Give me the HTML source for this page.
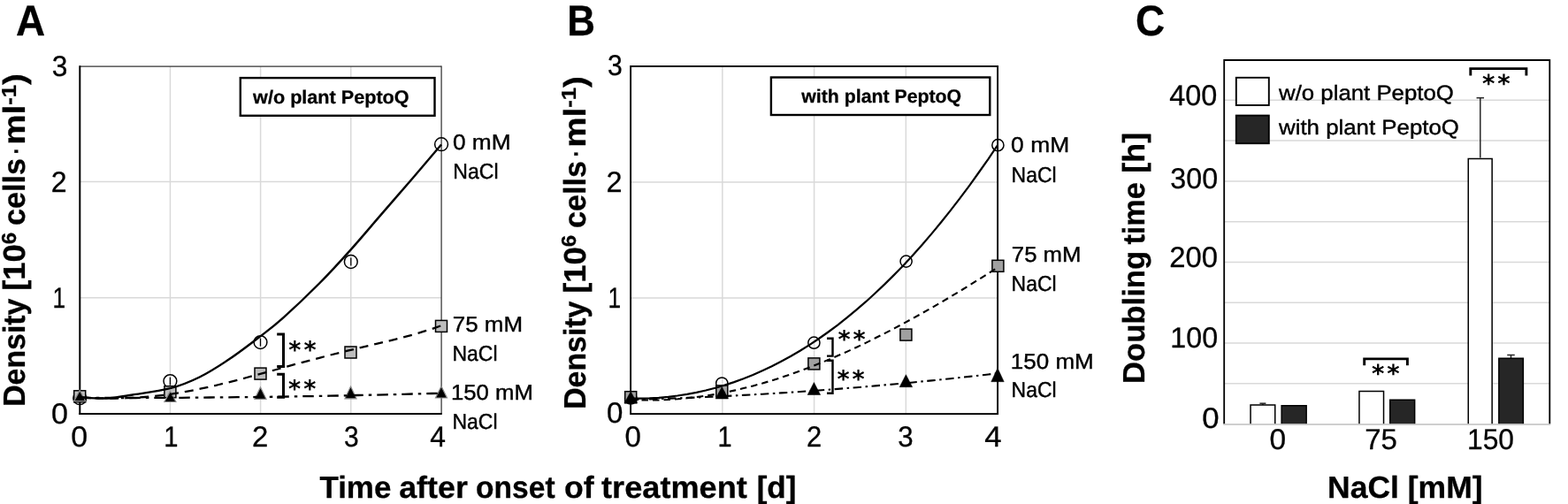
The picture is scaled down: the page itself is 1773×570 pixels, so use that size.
<!DOCTYPE html>
<html lang="en">
<head>
<meta charset="utf-8">
<title>Cell density and doubling time under NaCl treatment</title>
<style>
html,body{margin:0;padding:0;background:#fff;}
body{width:1773px;height:570px;overflow:hidden;}
svg{display:block;font-family:'Liberation Sans', sans-serif;fill:#000;text-rendering:geometricPrecision;}
text{stroke:#000;stroke-width:0.4px;stroke-linejoin:round;}
text.b{stroke-width:0.3px;}
text.s{stroke-width:0;}
text.t{stroke-width:0.3px;}
</style>
</head>
<body>
<svg width="1773" height="570" viewBox="0 0 1773 570" role="img" aria-label="Cell density over time with and without plant PeptoQ under NaCl treatment, and doubling time">
<rect x="0" y="0" width="1773" height="570" fill="#fff"/>
<g>
<line x1="192.45" y1="75.00" x2="192.45" y2="467.90" stroke="#d9d9d9" stroke-width="1.5" />
<line x1="294.60" y1="75.00" x2="294.60" y2="467.90" stroke="#d9d9d9" stroke-width="1.5" />
<line x1="396.75" y1="75.00" x2="396.75" y2="467.90" stroke="#d9d9d9" stroke-width="1.5" />
<line x1="90.30" y1="336.75" x2="499.00" y2="336.75" stroke="#d9d9d9" stroke-width="1.5" />
<line x1="90.30" y1="205.60" x2="499.00" y2="205.60" stroke="#d9d9d9" stroke-width="1.5" />
<line x1="90.30" y1="75.00" x2="499.10" y2="75.00" stroke="#333" stroke-width="1.25" />
<line x1="499.10" y1="74.40" x2="499.10" y2="467.90" stroke="#333" stroke-width="1.25" />
<line x1="90.30" y1="74.30" x2="90.30" y2="468.90" stroke="#000" stroke-width="2" />
<line x1="89.30" y1="467.90" x2="499.80" y2="467.90" stroke="#000" stroke-width="2" />
<circle cx="90.20" cy="450.20" r="7.4" fill="none" stroke="#000" stroke-width="1.5"/>
<circle cx="192.40" cy="431.10" r="7.4" fill="none" stroke="#000" stroke-width="1.5"/>
<circle cx="294.50" cy="387.10" r="7.4" fill="none" stroke="#000" stroke-width="1.5"/>
<circle cx="396.80" cy="296.00" r="7.4" fill="none" stroke="#000" stroke-width="1.5"/>
<circle cx="499.06" cy="163.20" r="7.4" fill="none" stroke="#000" stroke-width="1.5"/>
<line x1="192.40" y1="426.60" x2="192.40" y2="435.60" stroke="#000" stroke-width="1.3" />
<line x1="294.50" y1="382.60" x2="294.50" y2="391.60" stroke="#000" stroke-width="1.3" />
<line x1="396.80" y1="291.50" x2="396.80" y2="300.50" stroke="#000" stroke-width="1.3" />
<rect x="83.70" y="441.80" width="13.0" height="13.0" fill="#bdbdbd" stroke="#000" stroke-width="1.5"/>
<rect x="185.90" y="436.70" width="13.0" height="13.0" fill="#bdbdbd" stroke="#000" stroke-width="1.5"/>
<rect x="288.00" y="416.10" width="13.0" height="13.0" fill="#bdbdbd" stroke="#000" stroke-width="1.5"/>
<rect x="390.00" y="392.00" width="13.0" height="13.0" fill="#bdbdbd" stroke="#000" stroke-width="1.5"/>
<rect x="492.50" y="362.40" width="13.0" height="13.0" fill="#bdbdbd" stroke="#000" stroke-width="1.5"/>
<path d="M90.20,441.60 L96.70,453.70 L83.70,453.70 Z" fill="#000" stroke="#8c8c8c" stroke-width="1.2" stroke-linejoin="miter"/>
<path d="M192.40,442.60 L198.90,454.50 L185.90,454.50 Z" fill="#000" stroke="#8c8c8c" stroke-width="1.2" stroke-linejoin="miter"/>
<path d="M294.50,437.90 L301.00,451.30 L288.00,451.30 Z" fill="#000" stroke="#8c8c8c" stroke-width="1.2" stroke-linejoin="miter"/>
<path d="M396.50,437.10 L403.00,450.80 L390.00,450.80 Z" fill="#000" stroke="#8c8c8c" stroke-width="1.2" stroke-linejoin="miter"/>
<path d="M499.00,436.80 L505.50,450.00 L492.50,450.00 Z" fill="#000" stroke="#8c8c8c" stroke-width="1.2" stroke-linejoin="miter"/>
<path d="M90.30,449.20 C95.25,449.42 110.05,450.95 120.00,450.50 C129.95,450.05 137.93,448.38 150.00,446.50 C162.07,444.62 179.80,442.53 192.40,439.20 C205.00,435.87 214.37,432.07 225.60,426.50 C236.83,420.93 248.40,413.45 259.80,405.80 C271.20,398.15 283.97,388.30 294.00,380.60 C304.03,372.90 308.73,369.70 320.00,359.60 C331.27,349.50 348.78,332.92 361.60,320.00 C374.42,307.08 385.33,295.00 396.90,282.10 C408.47,269.20 419.52,255.87 431.00,242.60 C442.48,229.33 454.47,215.68 465.80,202.50 C477.13,189.32 493.47,170.00 499.00,163.50" fill="none" stroke="#000" stroke-width="2.4"/>
<path d="M90.3,449.4 L100.8,449.9 L111.3,450.3 L121.7,450.5 L132.2,450.5 L142.7,450.2 L153.2,449.8 L163.7,449.0 L174.1,448.1 L184.6,446.8 L195.1,445.4 L205.6,443.7 L216.1,441.8 L226.5,439.7 L237.0,437.5 L247.5,435.0 L258.0,432.5 L268.5,429.8 L278.9,427.0 L289.4,424.2 L299.9,421.3 L310.4,418.5 L320.8,415.6 L331.3,412.7 L341.8,409.8 L352.3,407.1 L362.8,404.3 L373.2,401.6 L383.7,399.0 L394.2,396.4 L404.7,393.9 L415.2,391.4 L425.6,388.9 L436.1,386.4 L446.6,383.8 L457.1,381.1 L467.6,378.3 L478.0,375.2 L488.5,371.9 L499.0,368.2" fill="none" stroke="#000" stroke-width="2.3" stroke-linejoin="round" stroke-dasharray="10 7"/>
<path d="M90.3,449.9 L100.8,450.0 L111.3,450.0 L121.7,450.0 L132.2,450.0 L142.7,450.0 L153.2,450.0 L163.7,449.9 L174.1,449.9 L184.6,449.9 L195.1,449.8 L205.6,449.8 L216.1,449.7 L226.5,449.6 L237.0,449.5 L247.5,449.4 L258.0,449.3 L268.5,449.2 L278.9,449.1 L289.4,449.0 L299.9,448.9 L310.4,448.7 L320.8,448.6 L331.3,448.4 L341.8,448.2 L352.3,448.1 L362.8,447.9 L373.2,447.7 L383.7,447.5 L394.2,447.3 L404.7,447.0 L415.2,446.8 L425.6,446.6 L436.1,446.3 L446.6,446.1 L457.1,445.8 L467.6,445.5 L478.0,445.3 L488.5,445.0 L499.0,444.7" fill="none" stroke="#000" stroke-width="2.3" stroke-linejoin="round" stroke-dasharray="12.5 6 3.5 6"/>
<path d="M313.20,377.90 H320.50 V414.40 H313.20" fill="none" stroke="#000" stroke-width="3.0" stroke-linejoin="miter"/>
<path d="M313.20,423.20 H320.50 V449.30 H313.20" fill="none" stroke="#000" stroke-width="3.0" stroke-linejoin="miter"/>
<rect x="271.8" y="88.1" width="219.7" height="42.7" fill="#fff" stroke="#000" stroke-width="2.4"/>
<line x1="816.85" y1="75.00" x2="816.85" y2="468.10" stroke="#d9d9d9" stroke-width="1.5" />
<line x1="920.60" y1="75.00" x2="920.60" y2="468.10" stroke="#d9d9d9" stroke-width="1.5" />
<line x1="1024.35" y1="75.00" x2="1024.35" y2="468.10" stroke="#d9d9d9" stroke-width="1.5" />
<line x1="713.10" y1="337.07" x2="1128.00" y2="337.07" stroke="#d9d9d9" stroke-width="1.5" />
<line x1="713.10" y1="206.04" x2="1128.00" y2="206.04" stroke="#d9d9d9" stroke-width="1.5" />
<rect x="713.1" y="75" width="415.00" height="393.10" fill="none" stroke="#000" stroke-width="1.9"/>
<circle cx="713.20" cy="450.50" r="6.6" fill="none" stroke="#000" stroke-width="1.5"/>
<circle cx="816.30" cy="433.50" r="6.6" fill="none" stroke="#000" stroke-width="1.5"/>
<circle cx="920.40" cy="387.70" r="6.6" fill="none" stroke="#000" stroke-width="1.5"/>
<circle cx="1024.60" cy="295.60" r="6.6" fill="none" stroke="#000" stroke-width="1.5"/>
<circle cx="1128.40" cy="164.20" r="6.6" fill="none" stroke="#000" stroke-width="1.5"/>
<rect x="706.70" y="442.70" width="13.0" height="13.0" fill="#a0a0a0" stroke="#000" stroke-width="1.5"/>
<rect x="809.80" y="435.90" width="13.0" height="13.0" fill="#a0a0a0" stroke="#000" stroke-width="1.5"/>
<rect x="913.90" y="404.90" width="13.0" height="13.0" fill="#a0a0a0" stroke="#000" stroke-width="1.5"/>
<rect x="1017.90" y="372.10" width="13.0" height="13.0" fill="#a0a0a0" stroke="#000" stroke-width="1.5"/>
<rect x="1121.90" y="294.30" width="13.0" height="13.0" fill="#a0a0a0" stroke="#000" stroke-width="1.5"/>
<path d="M713.0,450.5 L723.6,450.6 L734.3,450.4 L744.9,449.8 L755.6,448.8 L766.2,447.5 L776.9,445.9 L787.5,443.9 L798.1,441.5 L808.8,438.8 L819.4,435.6 L830.1,432.1 L840.7,428.3 L851.4,424.0 L862.0,419.3 L872.7,414.3 L883.3,408.8 L893.9,403.0 L904.6,396.7 L915.2,390.1 L925.9,383.0 L936.5,375.5 L947.2,367.6 L957.8,359.2 L968.4,350.4 L979.1,341.2 L989.7,331.5 L1000.4,321.4 L1011.0,310.9 L1021.7,299.9 L1032.3,288.4 L1043.0,276.5 L1053.6,264.1 L1064.2,251.3 L1074.9,237.9 L1085.5,224.1 L1096.2,209.8 L1106.8,195.0 L1117.5,179.8 L1128.1,164.0" fill="none" stroke="#000" stroke-width="2.2" stroke-linejoin="round"/>
<path d="M713.0,451.8 L723.7,452.3 L734.3,452.5 L745.0,452.4 L755.6,452.0 L766.3,451.3 L776.9,450.3 L787.6,449.1 L798.2,447.6 L808.9,445.9 L819.5,443.9 L830.2,441.6 L840.8,439.1 L851.5,436.4 L862.1,433.5 L872.8,430.3 L883.4,426.9 L894.1,423.3 L904.7,419.5 L915.4,415.5 L926.0,411.3 L936.7,406.9 L947.3,402.3 L958.0,397.6 L968.6,392.7 L979.3,387.6 L989.9,382.3 L1000.6,376.9 L1011.2,371.4 L1021.9,365.7 L1032.5,359.9 L1043.2,353.9 L1053.8,347.9 L1064.5,341.7 L1075.1,335.4 L1085.8,329.0 L1096.4,322.5 L1107.1,315.8 L1117.7,309.2 L1128.4,302.4" fill="none" stroke="#000" stroke-width="2.1" stroke-linejoin="round" stroke-dasharray="7.5 5"/>
<path d="M713.0,452.0 L723.6,451.7 L734.3,451.4 L744.9,451.1 L755.6,450.7 L766.2,450.3 L776.8,449.9 L787.5,449.5 L798.1,449.0 L808.8,448.5 L819.4,448.0 L830.1,447.5 L840.7,446.9 L851.3,446.3 L862.0,445.7 L872.6,445.1 L883.3,444.4 L893.9,443.7 L904.5,443.0 L915.2,442.3 L925.8,441.5 L936.5,440.7 L947.1,439.9 L957.7,439.0 L968.4,438.2 L979.0,437.3 L989.7,436.4 L1000.3,435.4 L1010.9,434.5 L1021.6,433.5 L1032.2,432.5 L1042.9,431.4 L1053.5,430.4 L1064.2,429.3 L1074.8,428.2 L1085.4,427.0 L1096.1,425.9 L1106.7,424.7 L1117.4,423.5 L1128.0,422.2" fill="none" stroke="#000" stroke-width="2.1" stroke-linejoin="round" stroke-dasharray="9.5 4.5 2.5 4.5"/>
<path d="M713.20,442.80 L720.45,456.00 L705.95,456.00 Z" fill="#000" stroke="#000" stroke-width="0.5" stroke-linejoin="miter"/>
<path d="M816.30,437.50 L823.55,451.00 L809.05,451.00 Z" fill="#000" stroke="#000" stroke-width="0.5" stroke-linejoin="miter"/>
<path d="M920.40,432.50 L927.65,446.50 L913.15,446.50 Z" fill="#000" stroke="#000" stroke-width="0.5" stroke-linejoin="miter"/>
<path d="M1024.40,423.70 L1031.65,437.70 L1017.15,437.70 Z" fill="#000" stroke="#000" stroke-width="0.5" stroke-linejoin="miter"/>
<path d="M1128.00,416.30 L1135.25,431.70 L1120.75,431.70 Z" fill="#000" stroke="#000" stroke-width="0.5" stroke-linejoin="miter"/>
<path d="M935.00,382.80 H941.50 V402.60 H935.00" fill="none" stroke="#000" stroke-width="2.4" stroke-linejoin="miter"/>
<path d="M935.00,407.70 H941.50 V444.70 H935.00" fill="none" stroke="#000" stroke-width="2.4" stroke-linejoin="miter"/>
<rect x="871.9" y="87.5" width="247.4" height="42.5" fill="#fff" stroke="#000" stroke-width="2.4"/>
<line x1="1384.20" y1="433.82" x2="1752.30" y2="433.82" stroke="#d9d9d9" stroke-width="1.5" />
<line x1="1384.20" y1="388.03" x2="1752.30" y2="388.03" stroke="#d9d9d9" stroke-width="1.5" />
<line x1="1384.20" y1="342.25" x2="1752.30" y2="342.25" stroke="#d9d9d9" stroke-width="1.5" />
<line x1="1384.20" y1="296.46" x2="1752.30" y2="296.46" stroke="#d9d9d9" stroke-width="1.5" />
<line x1="1384.20" y1="250.68" x2="1752.30" y2="250.68" stroke="#d9d9d9" stroke-width="1.5" />
<line x1="1384.20" y1="204.89" x2="1752.30" y2="204.89" stroke="#d9d9d9" stroke-width="1.5" />
<line x1="1384.20" y1="159.11" x2="1752.30" y2="159.11" stroke="#d9d9d9" stroke-width="1.5" />
<line x1="1384.20" y1="113.32" x2="1752.30" y2="113.32" stroke="#d9d9d9" stroke-width="1.5" />
<line x1="1673.80" y1="110.70" x2="1673.80" y2="178.50" stroke="#262626" stroke-width="1.5" />
<line x1="1669.55" y1="110.70" x2="1678.05" y2="110.70" stroke="#262626" stroke-width="1.5" />
<line x1="1708.50" y1="401.50" x2="1708.50" y2="405.00" stroke="#262626" stroke-width="1.5" />
<line x1="1704.25" y1="401.50" x2="1712.75" y2="401.50" stroke="#262626" stroke-width="1.5" />
<line x1="1427.90" y1="456.20" x2="1427.90" y2="458.00" stroke="#262626" stroke-width="1.5" />
<line x1="1424.40" y1="456.20" x2="1431.40" y2="456.20" stroke="#262626" stroke-width="1.5" />
<path d="M1414.05,479.60 V458.05 H1441.75 V479.60" fill="#fff" stroke="#000" stroke-width="1.5"/>
<path d="M1449.15,479.60 V458.65 H1477.15 V479.60" fill="#262626" stroke="#000" stroke-width="1.5"/>
<path d="M1536.95,479.60 V442.45 H1564.55 V479.60" fill="#fff" stroke="#000" stroke-width="1.5"/>
<path d="M1571.75,479.60 V452.35 H1599.65 V479.60" fill="#262626" stroke="#000" stroke-width="1.5"/>
<path d="M1660.25,479.60 V179.55 H1687.15 V479.60" fill="#fff" stroke="#000" stroke-width="1.5"/>
<path d="M1694.85,479.60 V405.35 H1722.35 V479.60" fill="#262626" stroke="#000" stroke-width="1.5"/>
<path d="M1384.2,479.6 V68 H1752.3 V479.6" fill="none" stroke="#000" stroke-width="1.8"/>
<line x1="1383.30" y1="480.10" x2="1753.20" y2="480.10" stroke="#bfbfbf" stroke-width="1.5" />
<rect x="1397.8" y="87.8" width="37" height="31.2" fill="#fff" stroke="#000" stroke-width="1.9"/>
<rect x="1397.8" y="130.6" width="37" height="31.6" fill="#262626" stroke="#000" stroke-width="1.9"/>
<path d="M1662.80,85.50 V77.60 H1725.90 V85.50" fill="none" stroke="#000" stroke-width="2.9" stroke-linejoin="miter"/>
<path d="M1542.70,413.30 V405.90 H1591.40 V413.30" fill="none" stroke="#000" stroke-width="2.9" stroke-linejoin="miter"/>
</g>
<g>
<text transform="translate(286.10,116.50) scale(1.0203,1)" font-size="21.2" font-weight="bold" class="b">w/o plant PeptoQ</text>
<text transform="translate(511.92,169.00) scale(1.0776,1)" font-size="24.4">0 mM</text>
<text transform="translate(512.31,202.00) scale(0.9451,1)" font-size="24.4">NaCl</text>
<text transform="translate(511.74,375.10) scale(1.0639,1)" font-size="24.4">75 mM</text>
<text transform="translate(511.52,408.20) scale(0.9412,1)" font-size="24.4">NaCl</text>
<text transform="translate(509.89,452.30) scale(1.0560,1)" font-size="24.4">150 mM</text>
<text transform="translate(511.52,485.40) scale(0.9412,1)" font-size="24.4">NaCl</text>
<text transform="translate(58.84,85.60) scale(0.9625,1)" font-size="32.9" class="t">3</text>
<text transform="translate(57.85,216.80) scale(0.9733,1)" font-size="32.9" class="t">2</text>
<text transform="translate(59.40,348.00) scale(0.8000,1)" font-size="32.9" class="t">1</text>
<text transform="translate(58.06,478.70) scale(1.0375,1)" font-size="32.9" class="t">0</text>
<text transform="translate(80.17,504.50) scale(1.0312,1)" font-size="32.9" class="t">0</text>
<text transform="translate(185.13,504.50) scale(0.8867,1)" font-size="32.9" class="t">1</text>
<text transform="translate(285.00,504.50) scale(1.0000,1)" font-size="32.9" class="t">2</text>
<text transform="translate(389.09,504.50) scale(0.9125,1)" font-size="32.9" class="t">3</text>
<text transform="translate(486.23,504.50) scale(0.9688,1)" font-size="32.9" class="t">4</text>
<text transform="translate(28.40,459.84) rotate(-90) scale(0.9724,1)" font-size="34.8" font-weight="bold" class="b">Density</text>
<text transform="translate(28.40,328.79) rotate(-90) scale(1.0450,1)" font-size="34.8" font-weight="bold" class="b">[10<tspan font-size="23" dy="-10.9">6</tspan></text>
<text transform="translate(28.40,254.98) rotate(-90) scale(0.9813,1)" font-size="34.8" font-weight="bold" class="b">cells</text>
<text transform="translate(26.90,174.50) rotate(-90) scale(0.9000,1)" font-size="26" font-weight="bold" class="b">·</text>
<text transform="translate(28.40,163.72) rotate(-90) scale(1.1087,1)" font-size="34.8" font-weight="bold" class="b">ml<tspan font-size="23" dy="-10.9">-1</tspan><tspan dy="10.9">)</tspan></text>
<text transform="translate(17.95,40.00) scale(0.9485,1)" font-size="48.3" font-weight="bold" class="b">A</text>
<text transform="translate(906.30,116.30) scale(1.0039,1)" font-size="21.2" font-weight="bold" class="b">with plant PeptoQ</text>
<text transform="translate(1143.12,172.40) scale(1.0828,1)" font-size="24.4">0 mM</text>
<text transform="translate(1143.62,205.80) scale(0.9392,1)" font-size="24.4">NaCl</text>
<text transform="translate(1143.85,295.80) scale(1.0542,1)" font-size="24.4">75 mM</text>
<text transform="translate(1143.62,328.50) scale(0.9392,1)" font-size="24.4">NaCl</text>
<text transform="translate(1142.77,416.80) scale(1.0667,1)" font-size="24.4">150 mM</text>
<text transform="translate(1143.62,449.20) scale(0.9392,1)" font-size="24.4">NaCl</text>
<text transform="translate(686.98,85.40) scale(0.9188,1)" font-size="32.9" class="t">3</text>
<text transform="translate(685.53,216.80) scale(0.9867,1)" font-size="32.9" class="t">2</text>
<text transform="translate(687.40,348.00) scale(0.8000,1)" font-size="32.9" class="t">1</text>
<text transform="translate(685.89,478.20) scale(1.0063,1)" font-size="32.9" class="t">0</text>
<text transform="translate(706.49,505.20) scale(1.0063,1)" font-size="32.9" class="t">0</text>
<text transform="translate(811.54,505.20) scale(0.8800,1)" font-size="32.9" class="t">1</text>
<text transform="translate(912.02,505.20) scale(0.9400,1)" font-size="32.9" class="t">2</text>
<text transform="translate(1015.35,505.20) scale(0.9500,1)" font-size="32.9" class="t">3</text>
<text transform="translate(1113.14,505.20) scale(1.0562,1)" font-size="32.9" class="t">4</text>
<text transform="translate(661.60,462.84) rotate(-90) scale(0.9724,1)" font-size="34.8" font-weight="bold" class="b">Density</text>
<text transform="translate(661.60,331.79) rotate(-90) scale(1.0450,1)" font-size="34.8" font-weight="bold" class="b">[10<tspan font-size="23" dy="-10.9">6</tspan></text>
<text transform="translate(661.60,257.98) rotate(-90) scale(0.9813,1)" font-size="34.8" font-weight="bold" class="b">cells</text>
<text transform="translate(660.10,177.50) rotate(-90) scale(0.9000,1)" font-size="26" font-weight="bold" class="b">·</text>
<text transform="translate(661.60,166.72) rotate(-90) scale(1.1087,1)" font-size="34.8" font-weight="bold" class="b">ml<tspan font-size="23" dy="-10.9">-1</tspan><tspan dy="10.9">)</tspan></text>
<text transform="translate(641.27,40.00) scale(0.9100,1)" font-size="48.3" font-weight="bold" class="b">B</text>
<text transform="translate(361.40,563.00) scale(1.0051,1)" font-size="34.8" font-weight="bold" class="b">Time</text>
<text transform="translate(451.17,563.00) scale(1.0311,1)" font-size="34.8" font-weight="bold" class="b">after</text>
<text transform="translate(538.03,563.00) scale(0.9652,1)" font-size="34.8" font-weight="bold" class="b">onset</text>
<text transform="translate(637.98,563.00) scale(1.0250,1)" font-size="34.8" font-weight="bold" class="b">of</text>
<text transform="translate(680.00,563.00) scale(1.0399,1)" font-size="34.8" font-weight="bold" class="b">treatment</text>
<text transform="translate(855.69,563.00) scale(1.0075,1)" font-size="34.8" font-weight="bold" class="b">[d]</text>
<text transform="translate(1446.00,113.40) scale(1.0933,1)" font-size="23.6">w/o plant PeptoQ</text>
<text transform="translate(1446.00,151.50) scale(1.0951,1)" font-size="23.6">with plant PeptoQ</text>
<text transform="translate(1322.22,119.20) scale(0.9849,1)" font-size="32.9" class="t">400</text>
<text transform="translate(1323.32,213.00) scale(0.9792,1)" font-size="32.9" class="t">300</text>
<text transform="translate(1322.30,302.00) scale(0.9981,1)" font-size="32.9" class="t">200</text>
<text transform="translate(1323.34,393.30) scale(0.9788,1)" font-size="32.9" class="t">100</text>
<text transform="translate(1359.14,484.20) scale(1.0562,1)" font-size="32.9" class="t">0</text>
<text transform="translate(1435.48,508.00) scale(1.0187,1)" font-size="32.9" class="t">0</text>
<text transform="translate(1543.19,508.00) scale(1.0030,1)" font-size="32.9" class="t">75</text>
<text transform="translate(1658.97,508.00) scale(0.9654,1)" font-size="32.9" class="t">150</text>
<text transform="translate(1501.06,563.00) scale(1.0202,1)" font-size="34.8" font-weight="bold" class="b">NaCl [mM]</text>
<text transform="translate(1294.30,434.09) rotate(-90) scale(0.9973,1)" font-size="34.8" font-weight="bold" class="b">Doubling</text>
<text transform="translate(1294.30,276.60) rotate(-90) scale(0.9857,1)" font-size="34.8" font-weight="bold" class="b">time</text>
<text transform="translate(1294.30,195.76) rotate(-90) scale(1.0325,1)" font-size="34.8" font-weight="bold" class="b">[h]</text>
<text transform="translate(1283.90,40.00) scale(0.9516,1)" font-size="48.3" font-weight="bold" class="b">C</text>
<text class="s" x="326.36" y="404.75" font-size="27" font-family="'DejaVu Sans', 'Liberation Sans', sans-serif" font-weight="bold" letter-spacing="3.0">**</text>
<text class="s" x="326.06" y="448.90" font-size="27" font-family="'DejaVu Sans', 'Liberation Sans', sans-serif" font-weight="bold" letter-spacing="3.0">**</text>
<text class="s" x="947.56" y="392.71" font-size="27" font-family="'DejaVu Sans', 'Liberation Sans', sans-serif" font-weight="bold" letter-spacing="2.9">**</text>
<text class="s" x="946.46" y="437.80" font-size="27" font-family="'DejaVu Sans', 'Liberation Sans', sans-serif" font-weight="bold" letter-spacing="2.9">**</text>
<text class="s" x="1676.05" y="104.26" font-size="27.5" font-family="'DejaVu Sans', 'Liberation Sans', sans-serif" font-weight="bold" letter-spacing="2.9">**</text>
<text class="s" x="1551.05" y="432.06" font-size="27.5" font-family="'DejaVu Sans', 'Liberation Sans', sans-serif" font-weight="bold" letter-spacing="2.9">**</text>
</g>
</svg>
</body>
</html>
